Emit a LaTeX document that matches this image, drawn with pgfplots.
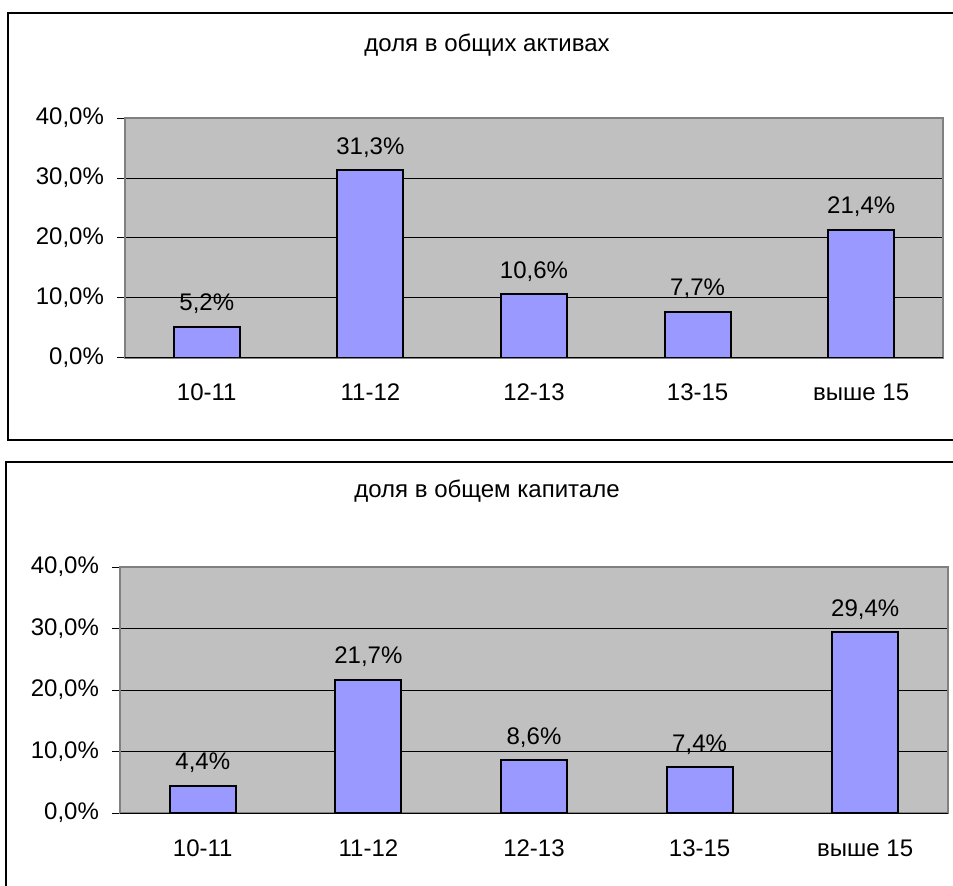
\documentclass[border=0pt]{standalone}
\usepackage{pgfplots}
\pgfplotsset{compat=1.18}
\usepackage{fontspec}
\setmainfont{Liberation Sans}

\definecolor{plotbg}{HTML}{C0C0C0}
\definecolor{barfill}{HTML}{9999FF}
\definecolor{border}{HTML}{808080}

\pgfplotsset{
  sharestyle/.style={
    scale only axis,
    anchor=south west,
    ybar,
    bar width=33pt,
    xmin=-0.5, xmax=4.5,
    ymin=0, ymax=40,
    xtick={0,1,2,3,4},
    xticklabels={10-11,11-12,12-13,13-15,выше 15},
    ytick={0,10,20,30,40},
    yticklabels={{0,0\%},{10,0\%},{20,0\%},{30,0\%},{40,0\%}},
    extra x ticks={-0.5,0.5,1.5,2.5,3.5,4.5},
    extra x tick labels={},
    extra x tick style={grid=none, major tick length=3.5pt, tick style={black, line width=0.5pt}},
    x tick style={draw=none},
    y tick style={black, line width=0.5pt},
    major tick length=4pt,
    tick align=outside,
    xtick pos=bottom, ytick pos=left,
    ymajorgrids,
    grid style={black, line width=0.5pt},
    axis line style={draw=border, line width=1pt},
    axis background/.style={fill=plotbg},
    tick label style={font=\fontsize{12}{14}\selectfont},
    xticklabel style={anchor=base, yshift=-17.5pt},
    yticklabel style={xshift=-3pt},
    /pgf/number format/assume math mode=true,
    nodes near coords={\pgfmathprintnumber[fixed,fixed zerofill,precision=1,use comma]{\pgfplotspointmeta}\%},
    nodes near coords style={font=\fontsize{12}{14}\selectfont, anchor=base, yshift=8pt},
  },
}

\begin{document}
\begin{tikzpicture}
\path[use as bounding box] (0,0) rectangle (476.5pt,-443pt);

% outer chart frames
\draw[black, line width=1pt] (476.5pt,-6.5pt) -- (4pt,-6.5pt) -- (4pt,-220pt) -- (476.5pt,-220pt);
\draw[black, line width=1pt] (476.5pt,-231pt) -- (3pt,-231pt) -- (3pt,-443pt);

\node[anchor=base, font=\fontsize{12}{14}\selectfont] at (243.5pt,-26pt) {доля в общих активах};
\node[anchor=base, font=\fontsize{12}{14}\selectfont] at (243.5pt,-249pt) {доля в общем капитале};

\begin{axis}[sharestyle, at={(62.5pt,-179pt)}, width=409pt, height=120pt]
\addplot[fill=barfill, draw=black, line width=1pt] coordinates {
  (0,5.2) (1,31.3) (2,10.6) (3,7.7) (4,21.4)
};
\draw[black, line width=0.5pt] (axis cs:-0.5,0) -- (axis cs:4.5,0);
\end{axis}

\begin{axis}[sharestyle, at={(60pt,-406.5pt)}, width=414pt, height=123pt]
\addplot[fill=barfill, draw=black, line width=1pt] coordinates {
  (0,4.4) (1,21.7) (2,8.6) (3,7.4) (4,29.4)
};
\draw[black, line width=0.5pt] (axis cs:-0.5,0) -- (axis cs:4.5,0);
\end{axis}
\end{tikzpicture}
\end{document}
